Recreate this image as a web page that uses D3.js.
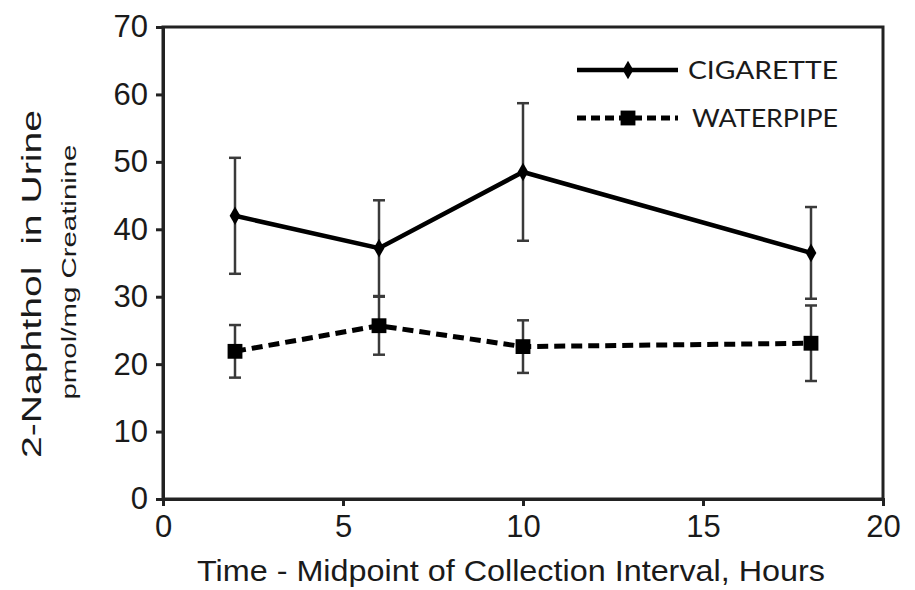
<!DOCTYPE html>
<html>
<head>
<meta charset="utf-8">
<script src="https://cdn.jsdelivr.net/npm/d3@7"></script>
<style>
  html, body { margin: 0; padding: 0; background: #fff; }
  svg text { font-family: "Liberation Sans", Arial, sans-serif; fill: #1a1a1a; white-space: pre; }
</style>
</head>
<body>
<svg id="chart" width="915" height="590"></svg>
<script>
// hours (midpoint of collection interval)
const hours = [2, 6, 10, 18];
// 2-naphthol, pmol/mg creatinine
const cigaretteMean = [42.0, 37.2, 48.5, 36.5];
const cigaretteErr = [8.6, 7.1, 10.2, 6.8];
const waterpipeMean = [21.9, 25.7, 22.6, 23.1];
const waterpipeErr = [3.9, 4.3, 3.9, 5.6];
const xTicks = [0, 5, 10, 15, 20];
const yTicks = [0, 10, 20, 30, 40, 50, 60, 70];

const svg = d3.select('#chart');
const margin = { left: 163, right: 32, top: 27, bottom: 91 };
const width = 915, height = 590;

const x = d3.scaleLinear().domain([0, 20]).range([margin.left, width - margin.right]);
const y = d3.scaleLinear().domain([0, 70]).range([height - margin.bottom, margin.top]);

// frame
svg.append('rect')
  .attr('x', x(0)).attr('y', y(70))
  .attr('width', x(20) - x(0)).attr('height', y(0) - y(70))
  .attr('fill', 'none').attr('stroke', '#222').attr('stroke-width', 3);

// axes
const xAxis = svg.append('g')
  .attr('transform', 'translate(0,' + y(0) + ')')
  .call(d3.axisBottom(x).tickValues(xTicks).tickSize(7).tickPadding(9).tickFormat(d3.format('d')));
const yAxis = svg.append('g')
  .attr('transform', 'translate(' + x(0) + ',0)')
  .call(d3.axisLeft(y).tickValues(yTicks).tickSize(7).tickPadding(8).tickFormat(d3.format('d')));

[xAxis, yAxis].forEach(function (a) {
  a.select('.domain').attr('stroke', '#222').attr('stroke-width', 3);
  a.selectAll('.tick line').attr('stroke', '#222').attr('stroke-width', 3);
  a.selectAll('.tick text')
    .attr('fill', '#1a1a1a')
    .style('font-family', '"Liberation Sans", Arial, sans-serif')
    .style('font-size', '31px');
});

// axis titles
svg.append('text')
  .attr('x', 511).attr('y', 581)
  .attr('text-anchor', 'middle')
  .attr('textLength', 628).attr('lengthAdjust', 'spacingAndGlyphs')
  .style('font-size', '30px')
  .text('Time - Midpoint of Collection Interval, Hours');

svg.append('text')
  .attr('transform', 'translate(41,284) rotate(-90)')
  .attr('text-anchor', 'middle')
  .attr('textLength', 348).attr('lengthAdjust', 'spacingAndGlyphs')
  .style('font-size', '27px')
  .text('2-Naphthol  in Urine');
svg.append('text')
  .attr('transform', 'translate(76,272) rotate(-90)')
  .attr('text-anchor', 'middle')
  .attr('textLength', 255).attr('lengthAdjust', 'spacingAndGlyphs')
  .style('font-size', '20px')
  .text('pmol/mg Creatinine');

function series(means, errs) {
  return hours.map(function (h, i) { return { h: h, m: means[i], e: errs[i] }; });
}
const cig = series(cigaretteMean, cigaretteErr);
const wp = series(waterpipeMean, waterpipeErr);

// error bars
function errorBars(data) {
  const g = svg.append('g');
  g.selectAll('line.v').data(data).join('line')
    .attr('x1', function (d) { return x(d.h); }).attr('x2', function (d) { return x(d.h); })
    .attr('y1', function (d) { return y(d.m - d.e); }).attr('y2', function (d) { return y(d.m + d.e); })
    .attr('stroke', '#3a3a3a').attr('stroke-width', 2.5);
  [-1, 1].forEach(function (s) {
    g.selectAll(null).data(data).join('line')
      .attr('x1', function (d) { return x(d.h) - 6; }).attr('x2', function (d) { return x(d.h) + 6; })
      .attr('y1', function (d) { return y(d.m + s * d.e); }).attr('y2', function (d) { return y(d.m + s * d.e); })
      .attr('stroke', '#3a3a3a').attr('stroke-width', 2.5);
  });
}
errorBars(cig);
errorBars(wp);

const line = d3.line().x(function (d) { return x(d.h); }).y(function (d) { return y(d.m); });

svg.append('path').datum(cig).attr('d', line)
  .attr('fill', 'none').attr('stroke', '#000').attr('stroke-width', 4.5);
svg.append('path').datum(wp).attr('d', line)
  .attr('fill', 'none').attr('stroke', '#000').attr('stroke-width', 5).attr('stroke-dasharray', '11,6');

const diamond = d3.symbol().type(d3.symbolDiamond).size(100);
const square = d3.symbol().type(d3.symbolSquare).size(220);

svg.append('g').selectAll('path').data(cig).join('path')
  .attr('transform', function (d) { return 'translate(' + x(d.h) + ',' + y(d.m) + ')'; })
  .attr('d', diamond).attr('fill', '#000');
svg.append('g').selectAll('path').data(wp).join('path')
  .attr('transform', function (d) { return 'translate(' + x(d.h) + ',' + y(d.m) + ')'; })
  .attr('d', square).attr('fill', '#000');

// legend
const legend = svg.append('g');
const legendItems = [
  { label: 'CIGARETTE', y: 70, dash: null, sym: diamond, w: 4.5, tx: 688, tl: 150 },
  { label: 'WATERPIPE', y: 118, dash: '9,5', sym: square, w: 5, tx: 692, tl: 146 }
];
legendItems.forEach(function (it) {
  legend.append('line')
    .attr('x1', 577).attr('x2', 678).attr('y1', it.y).attr('y2', it.y)
    .attr('stroke', '#000').attr('stroke-width', it.w)
    .attr('stroke-dasharray', it.dash);
  legend.append('path')
    .attr('transform', 'translate(628,' + it.y + ')')
    .attr('d', it.sym).attr('fill', '#000');
  legend.append('text')
    .attr('x', it.tx).attr('y', it.y + 9)
    .attr('textLength', it.tl).attr('lengthAdjust', 'spacingAndGlyphs')
    .style('font-family', 'Lato, "Open Sans", sans-serif')
    .style('font-size', '25px')
    .text(it.label);
});
</script>
</body>
</html>
